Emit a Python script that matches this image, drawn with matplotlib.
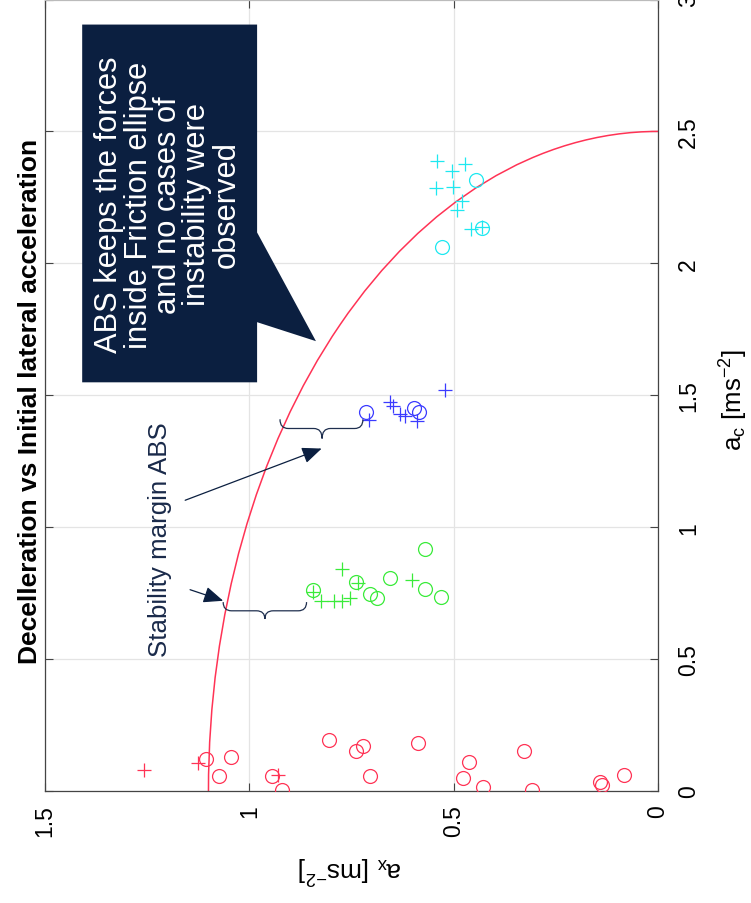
import matplotlib
matplotlib.use("Agg")
import matplotlib.pyplot as plt
from matplotlib.patches import Arc, Polygon, PathPatch
from matplotlib.path import Path

plt.rcParams['font.family'] = ['Liberation Sans', 'DejaVu Sans']
plt.rcParams['mathtext.default'] = 'regular'

# ---------------- data (a_x = deceleration, a_c = lateral acceleration) ----
red_circ_ax = [1.106, 1.046, 1.074, 0.945, 0.919, 0.805, 0.739, 0.721, 0.705,
               0.588, 0.462, 0.476, 0.427, 0.327, 0.309, 0.142, 0.136, 0.082]
red_circ_ac = [0.121, 0.130, 0.056, 0.058, 0.005, 0.194, 0.153, 0.172, 0.056,
               0.182, 0.109, 0.048, 0.014, 0.153, 0.004, 0.035, 0.023, 0.061]
red_plus_ax = [1.258, 1.125, 0.929]
red_plus_ac = [0.081, 0.106, 0.061]

green_circ_ax = [0.845, 0.739, 0.705, 0.687, 0.657, 0.570, 0.570, 0.532]
green_circ_ac = [0.761, 0.794, 0.746, 0.730, 0.807, 0.919, 0.765, 0.736]
green_plus_ax = [0.845, 0.825, 0.794, 0.774, 0.754, 0.774, 0.733, 0.603]
green_plus_ac = [0.755, 0.721, 0.721, 0.721, 0.730, 0.843, 0.790, 0.799]

blue_circ_ax = [0.714, 0.597, 0.584]
blue_circ_ac = [1.437, 1.453, 1.437]
blue_plus_ax = [0.706, 0.656, 0.649, 0.631, 0.619, 0.590, 0.521]
blue_plus_ac = [1.405, 1.475, 1.459, 1.428, 1.422, 1.403, 1.520]

cyan_circ_ax = [0.445, 0.431, 0.529]
cyan_circ_ac = [2.316, 2.135, 2.063]
cyan_plus_ax = [0.542, 0.505, 0.472, 0.543, 0.501, 0.480, 0.491, 0.458, 0.431]
cyan_plus_ac = [2.388, 2.350, 2.375, 2.287, 2.290, 2.236, 2.202, 2.131, 2.139]

# friction ellipse semi-axes
ellipse_ax_max = 1.1
ellipse_ac_max = 2.5

x_ticks = [0, 0.5, 1, 1.5]
x_tick_labels = ['0', '0.5', '1', '1.5']
y_ticks = [0, 0.5, 1, 1.5, 2, 2.5, 3]
y_tick_labels = ['0', '0.5', '1', '1.5', '2', '2.5', '3']

title = 'Decelleration vs Initial lateral acceleration'
callout_text = ('ABS keeps the forces\ninside Friction ellipse\nand no cases of\n'
                'instability were\nobserved')
margin_text = 'Stability margin ABS'

# ---------------- figure ----------------
RED = '#ff3355'
GREEN = '#3aeb3a'
BLUE = '#3b3bff'
CYAN = '#1ee8f0'
NAVY = '#0b1f40'

fig = plt.figure(figsize=(7.51, 9.04), dpi=100)
ax = fig.add_axes([45 / 751, 1 - 792 / 904, 613 / 751, 791.5 / 904])

ax.set_xlim(1.5, 0)
ax.set_ylim(0, 3)
ax.set_xticks(x_ticks)
ax.set_xticklabels(x_tick_labels)
ax.set_yticks(y_ticks)
ax.set_yticklabels(y_tick_labels)
ax.grid(True, color='#e4e4e4', lw=0.9)
ax.set_axisbelow(True)

ax.tick_params(axis='y', which='both', left=True, right=True, labelleft=False,
               labelright=True, direction='in', length=6, width=0.8,
               color='#444444', labelsize=16.5, pad=13.5, labelrotation=90)
ax.tick_params(axis='x', which='both', bottom=True, top=True, labelbottom=True,
               direction='in', length=6, width=0.8, color='#444444',
               labelsize=16.5, pad=9.5, labelrotation=90)
for lab in ax.get_yticklabels():
    lab.set_verticalalignment('center')
    lab.set_horizontalalignment('left')
for lab in ax.get_xticklabels():
    lab.set_verticalalignment('top')
    lab.set_horizontalalignment('center')
for s in ['left', 'right', 'bottom']:
    ax.spines[s].set_color('#444444')
    ax.spines[s].set_linewidth(0.9)
ax.spines['top'].set_color('#bbbbbb')

# friction ellipse
ax.add_patch(Arc((0, 0), 2 * ellipse_ax_max, 2 * ellipse_ac_max, theta1=0,
                 theta2=90, color=RED, lw=1.1, zorder=2))

mk = dict(linestyle='none', markerfacecolor='none', zorder=3)
for cax, cac, pax, pac, col in [
        (red_circ_ax, red_circ_ac, red_plus_ax, red_plus_ac, RED),
        (green_circ_ax, green_circ_ac, green_plus_ax, green_plus_ac, GREEN),
        (blue_circ_ax, blue_circ_ac, blue_plus_ax, blue_plus_ac, BLUE),
        (cyan_circ_ax, cyan_circ_ac, cyan_plus_ax, cyan_plus_ac, CYAN)]:
    ax.plot(cax, cac, marker='o', markersize=10, markeredgewidth=0.9,
            markeredgecolor=col, **mk)
    ax.plot(pax, pac, marker='+', markersize=10, markeredgewidth=0.9,
            markeredgecolor=col, **mk)

# callout box with pointer
callout = Polygon([(1.409, 2.905), (0.981, 2.905), (0.981, 2.117), (0.837, 1.705),
                   (0.981, 1.777), (0.981, 1.549), (1.409, 1.549)],
                  closed=True, facecolor=NAVY, edgecolor='none', zorder=5)
ax.add_patch(callout)
ax.text(1.199, 2.225, callout_text, rotation=90, ha='center', va='center',
        color='white', fontsize=22.2, linespacing=0.97, zorder=6,
        multialignment='center')


def brace(x0, x1, y_end, y_mid, y_tip, xm):
    r = (x1 - x0) * 0.1
    verts = [(x0, y_end), (x0, y_mid), (x0 + r, y_mid),
             (xm - r, y_mid),
             (xm, y_mid), (xm, y_tip),
             (xm, y_mid), (xm + r, y_mid),
             (x1 - r, y_mid),
             (x1, y_mid), (x1, y_end)]
    codes = [Path.MOVETO, Path.CURVE3, Path.CURVE3, Path.LINETO,
             Path.CURVE3, Path.CURVE3, Path.CURVE3, Path.CURVE3,
             Path.LINETO, Path.CURVE3, Path.CURVE3]
    return PathPatch(Path(verts, codes), facecolor='none', edgecolor='#1f2f4f',
                     lw=0.9, zorder=4)


ax.add_patch(brace(0.925, 0.722, 1.409, 1.374, 1.336, 0.822))
ax.add_patch(brace(1.064, 0.860, 0.716, 0.683, 0.652, 0.962))

arrow_kw = dict(arrowstyle='-|>,head_length=0.6,head_width=0.25', color=NAVY,
                lw=0.9, mutation_scale=20, shrinkA=0, shrinkB=0)
ax.annotate('', xy=(0.823, 1.298), xytext=(1.157, 1.102),
            arrowprops=arrow_kw, zorder=4)
ax.annotate('', xy=(1.064, 0.721), xytext=(1.145, 0.763),
            arrowprops=arrow_kw, zorder=4)

ax.text(1.219, 0.958, margin_text, rotation=90, ha='center', va='center',
        color='#1a2a4a', fontsize=18.6, zorder=4)

# titles / labels (figure is rotated by 90 degrees)
fig.text(30 / 751, 1 - 401 / 904, title, rotation=90, ha='center', va='center',
         fontsize=19, fontweight='bold')
fig.text(734 / 751, 1 - 400 / 904, r'a$_c$ [ms$^{-2}$]', rotation=90,
         ha='center', va='center', fontsize=18.5)
fig.text(350 / 751, 1 - 869 / 904, r'a$_x$ [ms$^{-2}$]', rotation=180,
         ha='center', va='center', fontsize=19)

fig.savefig('out.png', dpi=100)
